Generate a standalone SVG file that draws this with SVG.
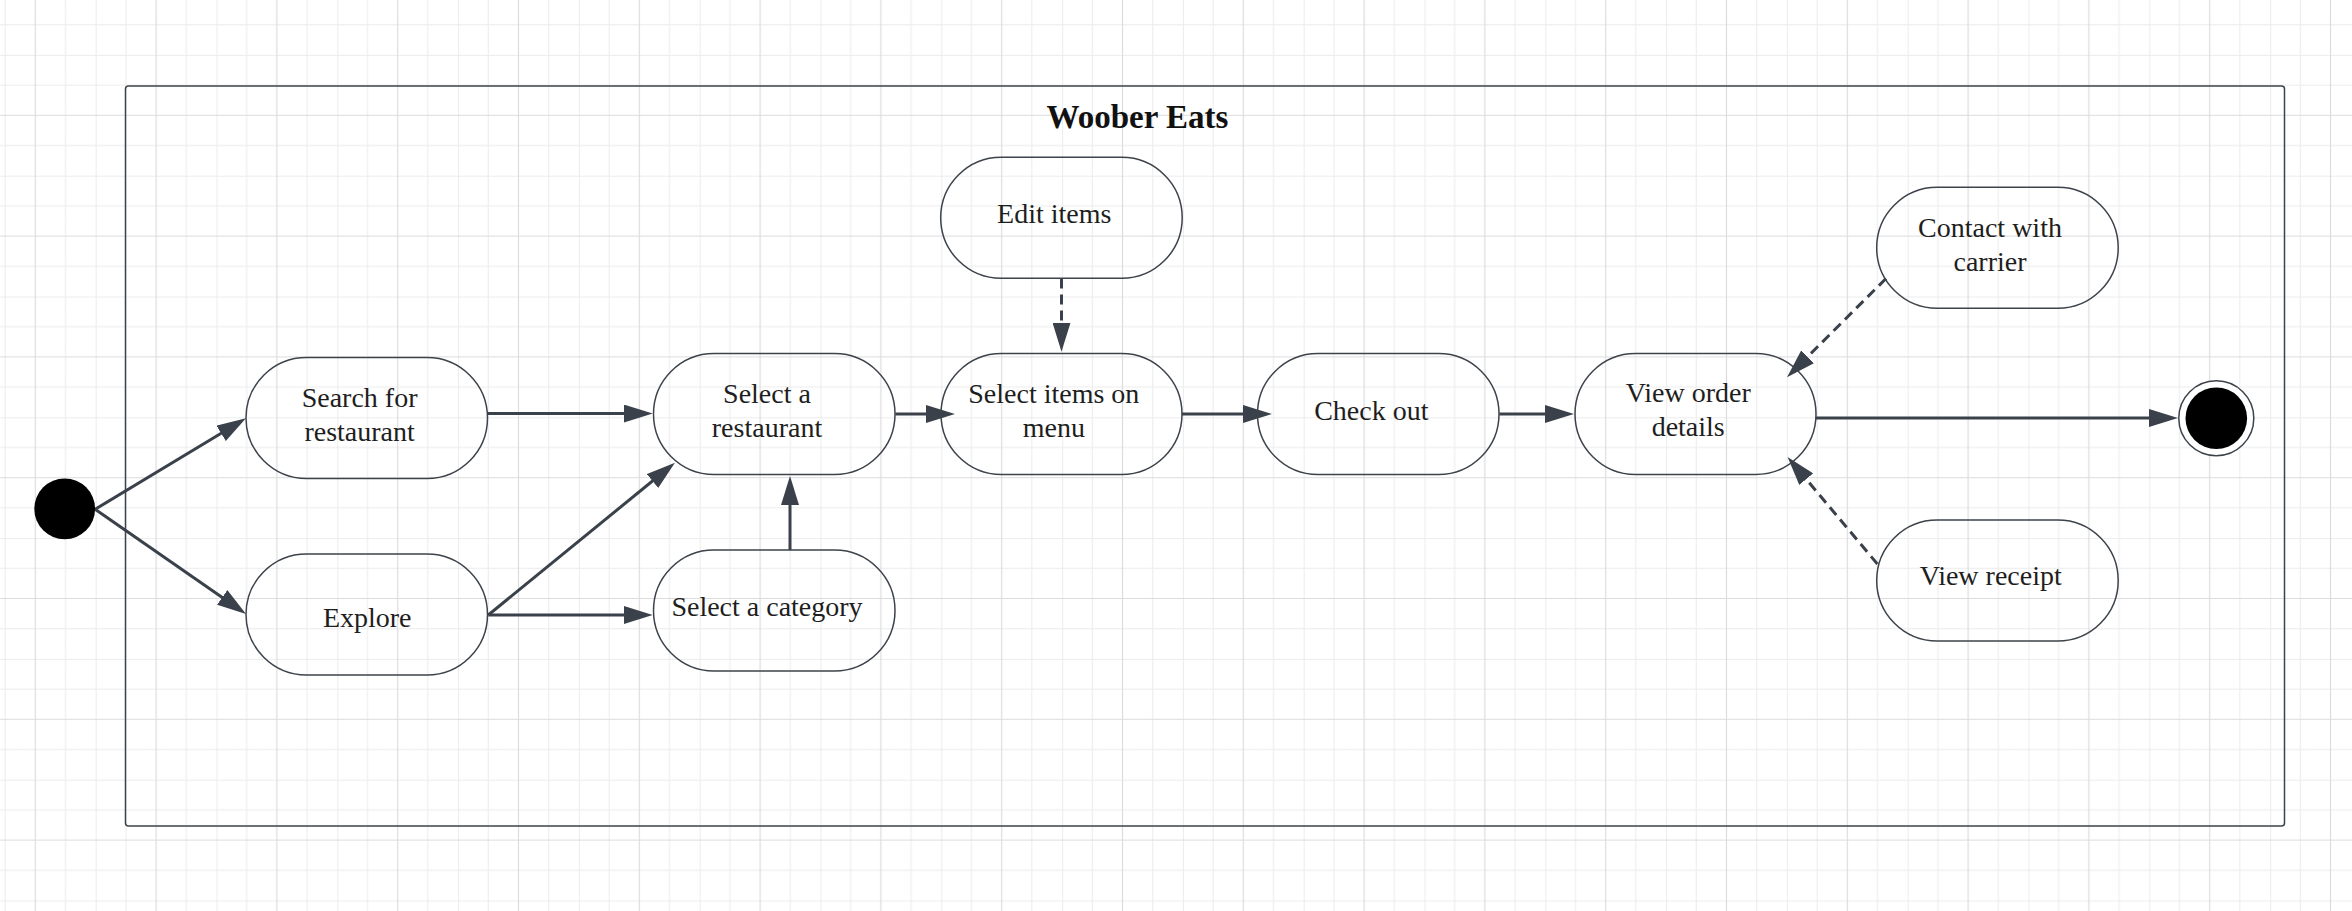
<svg xmlns="http://www.w3.org/2000/svg" width="2352" height="911" viewBox="0 0 2352 911">
  <style>
    .node { fill: none; stroke: #3d434b; stroke-width: 1.5; }
    .lbl { font-family: "Liberation Serif", "Times New Roman", serif; font-size: 28px; fill: #1e1e1e; text-anchor: middle; }
    .title { font-family: "Liberation Serif", "Times New Roman", serif; font-size: 33px; font-weight: bold; fill: #111; text-anchor: middle; }
    .edge { fill: none; stroke: #3a414a; stroke-width: 3; marker-end: url(#arrow); }
    .dash { stroke-dasharray: 10 6; }
  </style>
  <defs>
    <pattern id="grid" x="-25.1" y="54.9" width="120.8" height="120.8" patternUnits="userSpaceOnUse">
      <path d="M0 0 V120.8 M0 0 H120.8" stroke="#ececec" stroke-width="2" fill="none"/>
      <path d="M30.2 0 V120.8 M90.6 0 V120.8 M0 30.2 H120.8 M0 90.6 H120.8" stroke="#ececec" stroke-width="1" fill="none"/>
      <path d="M60.4 0 V120.8 M0 60.4 H120.8" stroke="#dcdcdc" stroke-width="1.2" fill="none"/>
    </pattern>
    <marker id="arrow" viewBox="0 0 29 18" refX="19" refY="9" markerWidth="29" markerHeight="18" markerUnits="userSpaceOnUse" orient="auto">
      <path d="M0 0 L29 9 L0 18 Z" fill="#3a414a"/>
    </marker>
  </defs>

  <rect width="2352" height="911" fill="#ffffff"/>
  <rect width="2352" height="911" fill="url(#grid)"/>

  <g id="frame">
    <rect x="125.5" y="86" width="2159" height="740" rx="3" ry="3" fill="none" stroke="#3d434b" stroke-width="1.5"/>
    <text class="title" x="1137.5" y="128">Woober Eats</text>
  </g>

  <g id="connectors">
    <line class="edge" x1="95.1" y1="509.3" x2="237.4" y2="423.5"/>
    <line class="edge" x1="95.1" y1="509.3" x2="237.8" y2="608.3"/>
    <line class="edge" x1="487.3" y1="413.5" x2="642.7" y2="413.5"/>
    <line class="edge" x1="488.3" y1="615" x2="667.2" y2="469"/>
    <line class="edge" x1="488.3" y1="615" x2="642.7" y2="615"/>
    <line class="edge" x1="790" y1="550" x2="790" y2="486"/>
    <line class="edge" x1="895.3" y1="414" x2="945" y2="414"/>
    <line class="edge dash" x1="1061.5" y1="278.5" x2="1061.5" y2="341.7"/>
    <line class="edge" x1="1181.8" y1="414" x2="1262" y2="414"/>
    <line class="edge" x1="1499.3" y1="414" x2="1564" y2="414"/>
    <line class="edge" x1="1816" y1="418" x2="2168" y2="418"/>
    <line class="edge dash" x1="1886" y1="278.5" x2="1794.1" y2="370.2"/>
    <line class="edge dash" x1="1877.4" y1="564" x2="1794" y2="464.6"/>
  </g>

  <g id="start">
    <circle cx="64.7" cy="508.8" r="30.4" fill="#000"/>
  </g>

  <g id="search">
    <rect class="node" x="246" y="357.5" width="241.5" height="121" rx="60.5" ry="60.5"/>
    <text class="lbl" x="359.6" y="407.3">Search for</text>
    <text class="lbl" x="359.6" y="440.7">restaurant</text>
  </g>

  <g id="explore">
    <rect class="node" x="246" y="554" width="241.5" height="121" rx="60.5" ry="60.5"/>
    <text class="lbl" x="367.2" y="627.3">Explore</text>
  </g>

  <g id="select-restaurant">
    <rect class="node" x="653.5" y="353.5" width="241.5" height="121" rx="60.5" ry="60.5"/>
    <text class="lbl" x="767" y="402.7">Select a</text>
    <text class="lbl" x="767" y="436.7">restaurant</text>
  </g>

  <g id="select-category">
    <rect class="node" x="653.5" y="550" width="241.5" height="121" rx="60.5" ry="60.5"/>
    <text class="lbl" x="767" y="616">Select a category</text>
  </g>

  <g id="edit-items">
    <rect class="node" x="940.7" y="157.3" width="241.5" height="121" rx="60.5" ry="60.5"/>
    <text class="lbl" x="1054.2" y="223.3">Edit items</text>
  </g>

  <g id="select-items">
    <rect class="node" x="941" y="353.5" width="241" height="121" rx="60.5" ry="60.5"/>
    <text class="lbl" x="1053.8" y="402.7">Select items on</text>
    <text class="lbl" x="1053.8" y="436.7">menu</text>
  </g>

  <g id="check-out">
    <rect class="node" x="1257.5" y="353.5" width="241.5" height="121" rx="60.5" ry="60.5"/>
    <text class="lbl" x="1371.3" y="420">Check out</text>
  </g>

  <g id="view-order">
    <rect class="node" x="1575" y="353.5" width="241" height="121" rx="60.5" ry="60.5"/>
    <text class="lbl" x="1688.2" y="402.3">View order</text>
    <text class="lbl" x="1688.2" y="436">details</text>
  </g>

  <g id="contact-carrier">
    <rect class="node" x="1876.7" y="187.3" width="241.5" height="121" rx="60.5" ry="60.5"/>
    <text class="lbl" x="1990" y="236.7">Contact with</text>
    <text class="lbl" x="1990" y="270.7">carrier</text>
  </g>

  <g id="view-receipt">
    <rect class="node" x="1876.7" y="520" width="241.5" height="121" rx="60.5" ry="60.5"/>
    <text class="lbl" x="1990.7" y="585">View receipt</text>
  </g>

  <g id="end">
    <circle cx="2216.3" cy="418.3" r="37.5" fill="#fff" stroke="#3d434b" stroke-width="1.5"/>
    <circle cx="2216.3" cy="418.3" r="30.8" fill="#000"/>
  </g>
</svg>
